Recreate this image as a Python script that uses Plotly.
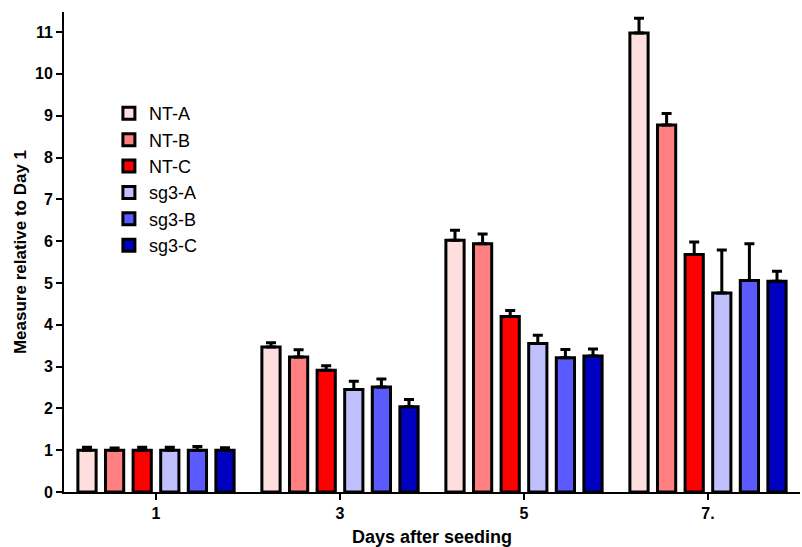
import plotly.graph_objects as go

days = ["1", "3", "5", "7."]
series = ["NT-A", "NT-B", "NT-C", "sg3-A", "sg3-B", "sg3-C"]
colors = ["#FFDEDE", "#FF8080", "#FF0000", "#C0C0FF", "#5A5AFF", "#0000C0"]

nt_a = [1.00, 3.47, 6.02, 10.98]
nt_b = [1.00, 3.23, 5.94, 8.78]
nt_c = [1.00, 2.91, 4.20, 5.68]
sg3_a = [1.00, 2.45, 3.55, 4.76]
sg3_b = [1.00, 2.51, 3.21, 5.06]
sg3_c = [1.00, 2.04, 3.25, 5.04]

err_nt_a = [0.07, 0.10, 0.24, 0.35]
err_nt_b = [0.05, 0.17, 0.23, 0.27]
err_nt_c = [0.07, 0.11, 0.14, 0.30]
err_sg3_a = [0.07, 0.20, 0.20, 1.03]
err_sg3_b = [0.09, 0.19, 0.20, 0.88]
err_sg3_c = [0.06, 0.17, 0.17, 0.24]

values = [nt_a, nt_b, nt_c, sg3_a, sg3_b, sg3_c]
errors = [err_nt_a, err_nt_b, err_nt_c, err_sg3_a, err_sg3_b, err_sg3_c]

FONT = "Liberation Sans, Arial, sans-serif"

fig = go.Figure()
for name, col, vals, errs in zip(series, colors, values, errors):
    fig.add_trace(go.Bar(
        x=days, y=vals, name=name,
        marker=dict(color=col, line=dict(color="black", width=3)),
        error_y=dict(type="data", array=errs, arrayminus=[0] * len(errs),
                     symmetric=False, color="black", thickness=3, width=5),
        cliponaxis=False,
    ))

fig.update_layout(
    width=802, height=547,
    margin=dict(l=64, r=2, t=12, b=55),
    plot_bgcolor="white", paper_bgcolor="white",
    barmode="group", bargap=0.10, bargroupgap=0.34,
    font=dict(family=FONT, size=16, color="black"),
    legend=dict(x=0.061, y=0.827, xanchor="left", yanchor="top",
                font=dict(family=FONT, size=18, color="black"),
                bgcolor="rgba(0,0,0,0)", itemwidth=30),
    showlegend=True,
)
fig.update_xaxes(
    range=[-0.5, 3.5], showline=True, linecolor="black", linewidth=2,
    ticks="outside", ticklen=6, tickwidth=2, tickcolor="black",
    tickfont=dict(family=FONT, size=16, color="black", weight="bold"),
    title=dict(text="<b>Days after seeding</b>", font=dict(family=FONT, size=18), standoff=9),
    showgrid=False, zeroline=False,
)
fig.update_yaxes(
    range=[0, 11.48], showline=True, linecolor="black", linewidth=2,
    ticks="outside", ticklen=6, tickwidth=2, tickcolor="black",
    tickmode="linear", tick0=0, dtick=1,
    tickfont=dict(family=FONT, size=16, color="black", weight="bold"),
    title=dict(text="<b>Measure relative to Day 1</b>", font=dict(family=FONT, size=17), standoff=4),
    showgrid=False, zeroline=False,
)

fig.write_html("out.html")
